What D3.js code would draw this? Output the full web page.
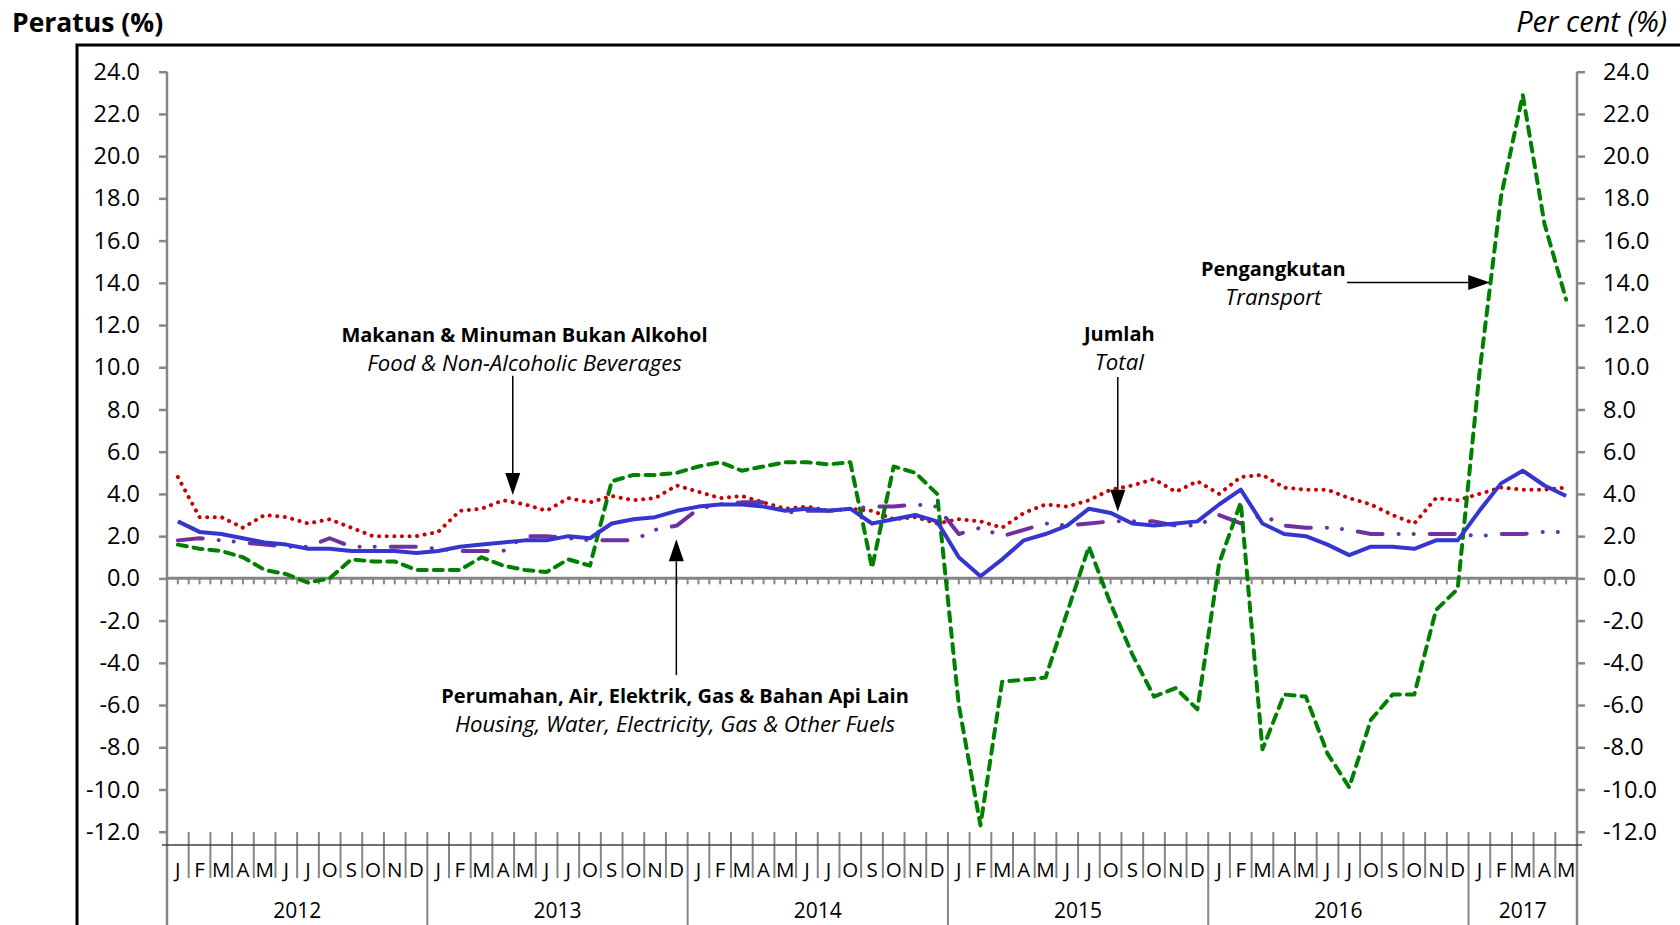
<!DOCTYPE html>
<html>
<head>
  <meta charset="UTF-8">
  <title>Indeks Harga Pengguna - Peratus Perubahan</title>
  <style>
    body { margin: 0; background: #fff; overflow: hidden; }
    svg { display: block; font-family: "Open Sans", sans-serif; }
    .axis text { font-size: 23.5px; fill: #000; font-family: "Open Sans", sans-serif; }
    .axis line { stroke: #868686; stroke-width: 2.5; }
    .axis path { display: none; }
    .month { font-size: 20.5px; }
    .year { font-size: 21px; }
    .note-b { font-size: 20px; font-weight: bold; }
    .note-i { font-size: 22.2px; font-style: italic; }
  </style>
</head>
<body>
  <svg></svg>
  <script src="https://d3js.org/d3.v7.min.js"></script>
  <script>
    // category labels (Malay month initials) and years
    const monthLabels = ["J","F","M","A","M","J","J","O","S","O","N","D"];
    const years = ["2012", "2013", "2014", "2015", "2016", "2017"];
    const monthsPerYear = [12, 12, 12, 12, 12, 5];
    const yTicks = d3.range(-12, 25, 2);

    // Jumlah / Total
    const total = [
      2.7, 2.2, 2.1, 1.9, 1.7, 1.6, 1.4, 1.4, 1.3, 1.3, 1.3, 1.2,
      1.3, 1.5, 1.6, 1.7, 1.8, 1.8, 2.0, 1.9, 2.6, 2.8, 2.9, 3.2,
      3.4, 3.5, 3.5, 3.4, 3.2, 3.3, 3.2, 3.3, 2.6, 2.8, 3.0, 2.7,
      1.0, 0.1, 0.9, 1.8, 2.1, 2.5, 3.3, 3.1, 2.6, 2.5, 2.6, 2.7,
      3.5, 4.2, 2.6, 2.1, 2.0, 1.6, 1.1, 1.5, 1.5, 1.4, 1.8, 1.8,
      3.2, 4.5, 5.1, 4.4, 3.9
    ];
    // Makanan & Minuman Bukan Alkohol
    const food = [
      4.8, 2.9, 2.9, 2.4, 3.0, 2.9, 2.6, 2.8, 2.4, 2.0, 2.0, 2.0,
      2.2, 3.2, 3.3, 3.7, 3.5, 3.2, 3.8, 3.6, 3.9, 3.7, 3.8, 4.4,
      4.1, 3.8, 3.9, 3.6, 3.3, 3.4, 3.2, 3.3, 3.2, 2.8, 2.9, 2.6,
      2.8, 2.7, 2.4, 3.1, 3.5, 3.4, 3.7, 4.2, 4.4, 4.7, 4.1, 4.6,
      4.0, 4.8, 4.9, 4.3, 4.2, 4.2, 3.8, 3.5, 3.0, 2.6, 3.8, 3.7,
      4.0, 4.3, 4.2, 4.2, 4.3
    ];
    // Perumahan, Air, Elektrik, Gas & Bahan Api Lain
    const housing = [
      1.8, 1.9, 1.8, 1.7, 1.6, 1.5, 1.5, 1.9, 1.5, 1.5, 1.5, 1.5,
      1.4, 1.3, 1.3, 1.3, 2.0, 2.0, 1.9, 1.8, 1.8, 1.8, 2.3, 2.5,
      3.3, 3.5, 3.6, 3.6, 3.1, 3.2, 3.2, 3.3, 3.4, 3.4, 3.5, 3.4,
      2.1, 2.4, 2.0, 2.3, 2.6, 2.5, 2.6, 2.7, 2.7, 2.7, 2.5, 2.5,
      3.0, 2.6, 3.0, 2.5, 2.4, 2.4, 2.3, 2.1, 2.1, 2.1, 2.1, 2.1,
      2.0, 2.1, 2.1, 2.2, 2.2
    ];
    // Pengangkutan / Transport
    const transport = [
      1.6, 1.4, 1.3, 1.0, 0.4, 0.2, -0.2, 0.0, 0.9, 0.8, 0.8, 0.4,
      0.4, 0.4, 1.0, 0.6, 0.4, 0.3, 0.9, 0.6, 4.6, 4.9, 4.9, 5.0,
      5.3, 5.5, 5.1, 5.3, 5.5, 5.5, 5.4, 5.5, 0.5, 5.3, 5.0, 4.0,
      -6.0, -11.7, -4.9, -4.8, -4.7, -1.6, 1.5, -1.2, -3.6, -5.6, -5.2, -6.2,
      0.7, 3.6, -8.1, -5.5, -5.6, -8.3, -9.9, -6.7, -5.5, -5.5, -1.5, -0.5,
      9.7, 18.1, 22.9, 16.8, 13.2
    ];

    let width = 1680, height = 925;
    let svg = d3.select("svg").attr("width", width).attr("height", height);

    const n = total.length;
    const left = 167, right = 1577;
    const x = d3.scaleBand().domain(d3.range(n)).range([left, right]);
    const xc = i => x(i) + x.bandwidth() / 2;
    const xf = d3.scaleLinear().domain([0, n]).range([left, right]); // category boundaries
    const y = d3.scaleLinear().domain([-12, 24]).range([831.7, 71.7]);
    const grey = "#868686";
    const fmt = d => d.toFixed(1); // plain hyphen for negatives, like the original

    // outer frame
    svg.append("rect")
      .attr("x", 77).attr("y", 45).attr("width", 2000).attr("height", 2000)
      .attr("fill", "none").attr("stroke", "#000").attr("stroke-width", 3);

    // headings
    svg.append("text").attr("x", 12).attr("y", 32)
      .style("font-size", "26.5px").style("font-weight", "bold").text("Peratus (%)");
    svg.append("text").attr("x", 1667).attr("y", 32).attr("text-anchor", "end")
      .style("font-size", "29px").style("font-style", "italic").text("Per cent (%)");

    // value axes
    svg.append("g").attr("class", "axis")
      .attr("transform", `translate(${left},0)`)
      .call(d3.axisLeft(y).tickValues(yTicks).tickSize(8).tickSizeOuter(0)
        .tickPadding(19).tickFormat(fmt));
    svg.append("g").attr("class", "axis")
      .attr("transform", `translate(${right},0)`)
      .call(d3.axisRight(y).tickValues(yTicks).tickSize(8).tickSizeOuter(0)
        .tickPadding(18).tickFormat(fmt));
    [left, right].forEach(px => {
      svg.append("line").attr("x1", px).attr("x2", px)
        .attr("y1", y(24)).attr("y2", height)
        .attr("stroke", grey).attr("stroke-width", 2.5);
    });

    // zero line with half-month ticks
    svg.append("g").selectAll("line")
      .data(d3.range(0, n * 2 + 1))
      .enter().append("line")
      .attr("x1", d => xf(d / 2)).attr("x2", d => xf(d / 2))
      .attr("y1", y(0)).attr("y2", y(0) + 6)
      .attr("stroke", grey).attr("stroke-width", 2);
    svg.append("line")
      .attr("x1", left).attr("x2", right).attr("y1", y(0)).attr("y2", y(0))
      .attr("stroke", grey).attr("stroke-width", 3);

    // category axis (months + years)
    const catY = 845;
    let yearStarts = [0];
    monthsPerYear.forEach((c, k) => yearStarts.push(yearStarts[k] + c));
    let cat = svg.append("g");
    cat.selectAll("line.m")
      .data(d3.range(1, n).filter(i => !yearStarts.includes(i)))
      .enter().append("line")
      .attr("x1", d => xf(d)).attr("x2", d => xf(d))
      .attr("y1", 832).attr("y2", 878)
      .attr("stroke", grey).attr("stroke-width", 2);
    cat.selectAll("line.y")
      .data(yearStarts.slice(1, -1))
      .enter().append("line")
      .attr("x1", d => xf(d)).attr("x2", d => xf(d))
      .attr("y1", 832).attr("y2", height)
      .attr("stroke", grey).attr("stroke-width", 2);
    cat.append("line")
      .attr("x1", left - 5).attr("x2", right + 5).attr("y1", catY).attr("y2", catY)
      .attr("stroke", "#404040").attr("stroke-width", 1.5);
    cat.selectAll("text.month")
      .data(d3.range(n))
      .enter().append("text").attr("class", "month")
      .attr("x", d => xc(d)).attr("y", 877).attr("text-anchor", "middle")
      .text(d => monthLabels[d % 12]);
    cat.selectAll("text.year")
      .data(years)
      .enter().append("text").attr("class", "year")
      .attr("x", (d, k) => xf(yearStarts[k] + monthsPerYear[k] / 2))
      .attr("y", 918).attr("text-anchor", "middle")
      .text(d => d);

    // series
    let line = d3.line().x((d, i) => xc(i)).y(d => y(d));
    let series = [
      { data: food, color: "#CC0000", dash: "0.1 7.5", cap: "round", w: 4 },
      { data: housing, color: "#7030A0", dash: "25 16 0.1 15 0.1 16", cap: "round", w: 4 },
      { data: transport, color: "#008000", dash: "9 7", cap: "round", w: 4 },
      { data: total, color: "#3535CF", dash: null, cap: "butt", w: 4 }
    ];
    svg.append("g").selectAll("path")
      .data(series)
      .enter().append("path")
      .attr("d", d => line(d.data))
      .attr("fill", "none")
      .attr("stroke", d => d.color)
      .attr("stroke-width", d => d.w)
      .attr("stroke-linecap", d => d.cap)
      .attr("stroke-linejoin", "round")
      .attr("stroke-dasharray", d => d.dash);

    // annotations
    function arrow(x1, y1, x2, y2) {
      let a = Math.atan2(y2 - y1, x2 - x1), L = 22, h = 7.5;
      let bx = x2 - L * Math.cos(a), by = y2 - L * Math.sin(a);
      svg.append("line").attr("x1", x1).attr("y1", y1).attr("x2", bx).attr("y2", by)
        .attr("stroke", "#000").attr("stroke-width", 1.5);
      let p = [[x2, y2],
               [bx + h * Math.sin(a), by - h * Math.cos(a)],
               [bx - h * Math.sin(a), by + h * Math.cos(a)]];
      svg.append("path").attr("d", "M" + p.join("L") + "Z").attr("fill", "#000");
    }
    function note(cx, vb, vi, bold, ital) {
      svg.append("text").attr("class", "note-b").attr("x", cx).attr("y", y(vb))
        .attr("text-anchor", "middle").text(bold);
      svg.append("text").attr("class", "note-i").attr("x", cx).attr("y", y(vi))
        .attr("text-anchor", "middle").text(ital);
    }

    note(xf(16.48), 11.2, 9.82, "Makanan & Minuman Bukan Alkohol", "Food & Non-Alcoholic Beverages");
    arrow(xf(15.94), y(9.6), xf(15.94), y(3.95));

    note(xf(23.42), -5.9, -7.27, "Perumahan, Air, Elektrik, Gas & Bahan Api Lain", "Housing, Water, Electricity, Gas & Other Fuels");
    arrow(xf(23.48), y(-4.58), xf(23.48), y(1.85));

    note(xf(43.9), 11.24, 9.87, "Jumlah", "Total");
    arrow(xf(43.83), y(9.54), xf(43.83), y(3.16));

    note(xf(51.0), 14.32, 12.95, "Pengangkutan", "Transport");
    arrow(xf(54.4), y(14.02), xf(61.0), y(14.02));
  </script>
</body>
</html>
